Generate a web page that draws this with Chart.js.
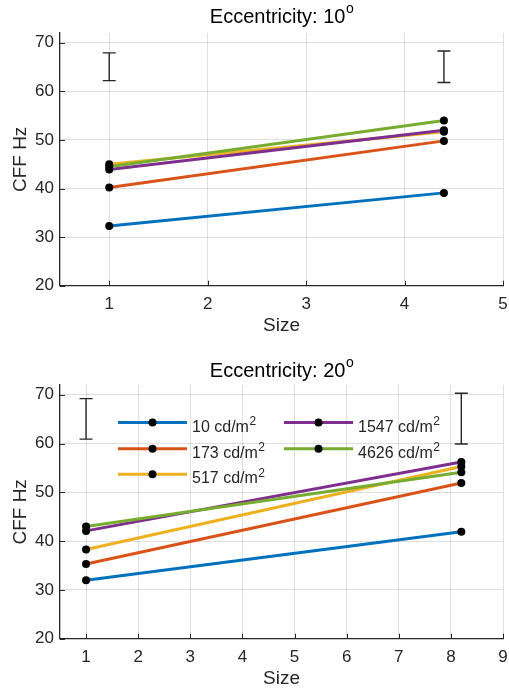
<!DOCTYPE html>
<html><head><meta charset="utf-8">
<script src="https://cdn.jsdelivr.net/npm/chart.js@4"></script>
<style>
html,body{margin:0;padding:0;background:#fff;overflow:hidden;width:509px;height:689px;}
#c1{position:absolute;left:0;top:0;}
#c2{position:absolute;left:0;top:345px;}
</style></head><body>
<canvas id="c1" width="509" height="345"></canvas>
<canvas id="c2" width="509" height="344"></canvas>
<script>
// ---------- data ----------
const seriesLabels = ['10 cd/m', '173 cd/m', '517 cd/m', '1547 cd/m', '4626 cd/m'];
const labelSup = '2';
const seriesColors = ['#0072BD', '#D95319', '#EDB120', '#7E2F8E', '#77AC30'];

// Eccentricity 10
const sizes10 = [1, 4.4];
const ecc10_lum10   = [32.3, 39.1];
const ecc10_lum173  = [40.2, 49.8];
const ecc10_lum517  = [45.0, 51.7];
const ecc10_lum1547 = [43.9, 52.0];
const ecc10_lum4626 = [44.5, 54.0];
const err10X    = [1, 4.4];
const err10Low  = [62.2, 61.8];
const err10High = [67.9, 68.3];
const xTicks10 = [1, 2, 3, 4, 5];

// Eccentricity 20
const sizes20 = [1, 8.2];
const ecc20_lum10   = [32.0, 41.9];
const ecc20_lum173  = [35.3, 51.9];
const ecc20_lum517  = [38.3, 55.3];
const ecc20_lum1547 = [42.1, 56.2];
const ecc20_lum4626 = [43.0, 54.1];
const err20X    = [1, 8.2];
const err20Low  = [60.9, 59.9];
const err20High = [69.2, 70.3];
const xTicks20 = [1, 2, 3, 4, 5, 6, 7, 8, 9];

const yTicks = [20, 30, 40, 50, 60, 70];
const titles = ['Eccentricity: 10', 'Eccentricity: 20'];
const titleSup = 'o';
const xLabel = 'Size';
const yLabel = 'CFF Hz';

// ---------- helpers ----------
const FONT = '"Liberation Sans", Arial, Helvetica, sans-serif';
const AXC = '#262626';

function buildDatasets(xs, seriesList) {
  return seriesList.map((vals, i) => ({
    label: seriesLabels[i],
    data: vals.map((v, j) => ({ x: xs[j], y: v })),
    borderColor: seriesColors[i],
    backgroundColor: seriesColors[i],
    borderWidth: 3,
    pointRadius: 4,
    pointHoverRadius: 4,
    pointBackgroundColor: '#000',
    pointBorderColor: '#000',
    pointBorderWidth: 0,
    tension: 0,
    order: seriesList.length - i
  }));
}

function makePlugin(cfg) {
  return {
    id: 'matlabish',
    afterDraw(chart) {
      const ctx = chart.ctx, ca = chart.chartArea;
      const xs = chart.scales.x, ys = chart.scales.y;
      ctx.save();
      // inward tick marks
      ctx.strokeStyle = AXC; ctx.lineWidth = 1;
      ctx.beginPath();
      xs.ticks.forEach(t => {
        const px = Math.round(xs.getPixelForValue(t.value)) + 0.5;
        ctx.moveTo(px, ca.bottom); ctx.lineTo(px, ca.bottom - 5);
      });
      ys.ticks.forEach(t => {
        const py = Math.round(ys.getPixelForValue(t.value)) + 0.5;
        ctx.moveTo(ca.left, py); ctx.lineTo(ca.left + 5, py);
      });
      ctx.stroke();
      // error bars
      ctx.strokeStyle = AXC; ctx.lineWidth = 1.4;
      ctx.beginPath();
      cfg.errX.forEach((xv, i) => {
        const px = xs.getPixelForValue(xv);
        const y1 = ys.getPixelForValue(cfg.errLow[i]);
        const y2 = ys.getPixelForValue(cfg.errHigh[i]);
        ctx.moveTo(px, y1); ctx.lineTo(px, y2);
        ctx.moveTo(px - 6.5, y1); ctx.lineTo(px + 6.5, y1);
        ctx.moveTo(px - 6.5, y2); ctx.lineTo(px + 6.5, y2);
      });
      ctx.stroke();
      // title with superscript
      ctx.fillStyle = '#000';
      ctx.textBaseline = 'alphabetic';
      ctx.textAlign = 'left';
      const mainFont = '20px ' + FONT, supFont = '14px ' + FONT;
      ctx.font = mainFont; const w1 = ctx.measureText(cfg.title).width;
      ctx.font = supFont; const w2 = ctx.measureText(titleSup).width;
      const cx = (ca.left + ca.right) / 2;
      const x0 = cx - (w1 + w2) / 2;
      ctx.font = mainFont; ctx.fillText(cfg.title, x0, cfg.titleBase);
      ctx.font = supFont; ctx.fillText(titleSup, x0 + w1 + 0.5, cfg.titleBase - 10.5);
      // legend
      if (cfg.legend) {
        const L = cfg.legend;
        chart.data.datasets.forEach((ds, i) => {
          const col = i < 3 ? 0 : 1;
          const row = i < 3 ? i : i - 3;
          const lx = L.colX[col], ly = L.rowY[row];
          ctx.strokeStyle = ds.borderColor; ctx.lineWidth = 3;
          ctx.beginPath(); ctx.moveTo(lx, ly); ctx.lineTo(lx + 69, ly); ctx.stroke();
          ctx.fillStyle = '#000';
          ctx.beginPath(); ctx.arc(lx + 34.5, ly, 4, 0, Math.PI * 2); ctx.fill();
          ctx.fillStyle = AXC;
          ctx.font = '16px ' + FONT;
          const tx = lx + 74, tb = ly + 9;
          ctx.fillText(ds.label, tx, tb);
          const tw = ctx.measureText(ds.label).width;
          ctx.font = '12px ' + FONT;
          ctx.fillText(labelSup, tx + tw + 0.5, tb - 6.5);
        });
      }
      ctx.restore();
    }
  };
}

function makeChart(canvasId, cfg) {
  return new Chart(document.getElementById(canvasId), {
    type: 'line',
    data: { datasets: buildDatasets(cfg.sizes, cfg.series) },
    options: {
      responsive: false,
      animation: false,
      devicePixelRatio: 1,
      layout: { padding: { top: cfg.padTop, right: 6, left: 0, bottom: 0 } },
      plugins: { legend: { display: false }, tooltip: { enabled: false }, title: { display: false } },
      scales: {
        x: {
          type: 'linear', min: 0.5, max: cfg.xMax,
          afterBuildTicks: s => { s.ticks = cfg.xTicks.map(v => ({ value: v })); },
          afterFit: s => { s.height = cfg.xAxisH; s.paddingLeft = 0; s.paddingRight = 0; },
          grid: { color: 'rgba(38,38,38,0.15)', lineWidth: 1, drawTicks: false },
          border: { display: true, color: AXC, width: 1.3 },
          ticks: { color: AXC, font: { family: FONT, size: 17 }, padding: 8, maxRotation: 0, autoSkip: false },
          title: { display: true, text: xLabel, color: AXC, font: { family: FONT, size: 19, lineHeight: 1 }, padding: { top: 0, bottom: cfg.xTitlePad } }
        },
        y: {
          type: 'linear', min: 20, max: 72,
          afterBuildTicks: s => { s.ticks = yTicks.map(v => ({ value: v })); },
          afterFit: s => { s.width = 60; s.paddingTop = 0; s.paddingBottom = 0; },
          grid: { color: 'rgba(38,38,38,0.15)', lineWidth: 1, drawTicks: false },
          border: { display: true, color: AXC, width: 1.3 },
          ticks: { color: AXC, font: { family: FONT, size: 17 }, padding: 6, autoSkip: false },
          title: { display: true, text: yLabel, color: AXC, font: { family: FONT, size: 19, lineHeight: 1 }, padding: { top: 11, bottom: 0 } }
        }
      }
    },
    plugins: [makePlugin(cfg)]
  });
}

makeChart('c1', {
  sizes: sizes10,
  series: [ecc10_lum10, ecc10_lum173, ecc10_lum517, ecc10_lum1547, ecc10_lum4626],
  errX: err10X, errLow: err10Low, errHigh: err10High,
  xTicks: xTicks10, xMax: 5,
  padTop: 33, xAxisH: 59.3, xTitlePad: 9.5,
  title: titles[0], titleBase: 23.3
});

makeChart('c2', {
  sizes: sizes20,
  series: [ecc20_lum10, ecc20_lum173, ecc20_lum517, ecc20_lum1547, ecc20_lum4626],
  errX: err20X, errLow: err20Low, errHigh: err20High,
  xTicks: xTicks20, xMax: 9,
  padTop: 40, xAxisH: 50.3, xTitlePad: 0.5,
  title: titles[1], titleBase: 32.3,
  legend: { colX: [118, 284], rowY: [77.5, 103.7, 129.3] }
});
</script>
</body></html>
